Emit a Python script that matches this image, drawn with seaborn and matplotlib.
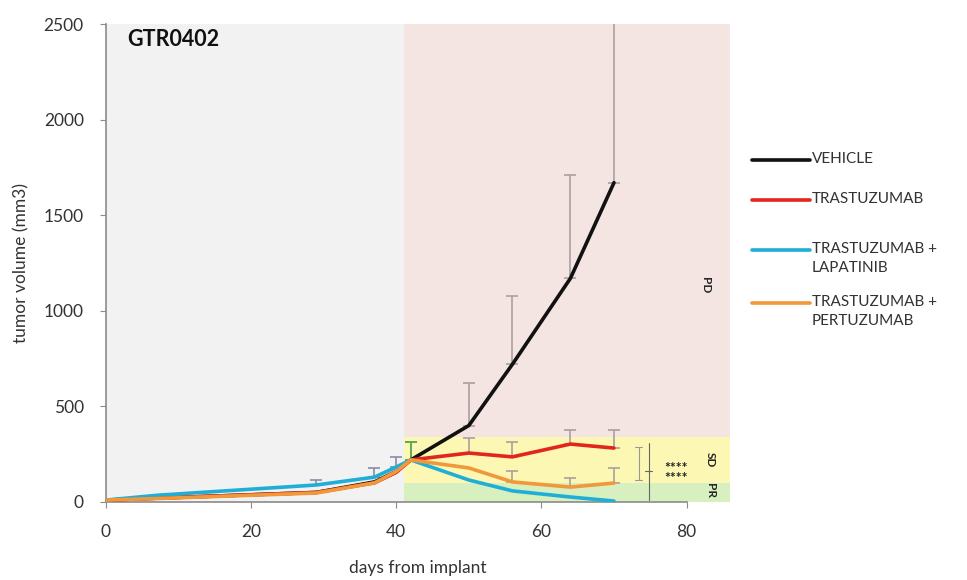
import numpy as np
import pandas as pd
import matplotlib
matplotlib.use("Agg")
import matplotlib.pyplot as plt
from matplotlib.lines import Line2D
from matplotlib.patches import Rectangle
import seaborn as sns

# data
days = [0, 7, 29, 37, 40, 42, 50, 56, 64, 70]
vehicle = [10, 20, 50, 105, 160, 220, 400, 720, 1170, 1670]
trastuzumab = [10, 20, 50, 100, 155, 220, 256, 236, 303, 282]
lapatinib = [10, 35, 89, 130, 183, 220, 115, 58, 26, 5]
pertuzumab = [10, 18, 47, 100, 160, 220, 178, 105, 78, 99]

# upper error bars (plus only)
vehicle_err = [0, 0, 0, 0, 0, 94, 220, 360, 540, 1300]
trastuzumab_err = [0, 0, 0, 0, 0, 0, 80, 78, 74, 95]
lapatinib_err = [0, 0, 26, 48, 52, 0, 0, 0, 0, 0]
pertuzumab_err = [0, 0, 0, 0, 0, 0, 0, 57, 48, 79]

groups = ["VEHICLE", "TRASTUZUMAB", "TRASTUZUMAB +\nLAPATINIB", "TRASTUZUMAB +\nPERTUZUMAB"]
colors = ["#111111", "#e3261b", "#1eaed6", "#f0983a"]
err_colors = ["#a8a0a0", "#a8a0a0", "#8c8aa8", "#a8a0a0"]

# response bands (mm3) and treatment start (day)
treat_start = 41
pr_top = 100
sd_top = 340

sns.set_style("ticks")
plt.rcParams["font.family"] = ["Lato", "DejaVu Sans"]

fig = plt.figure(figsize=(9.67, 5.8), dpi=100)
ax = fig.add_axes([0.1096, 0.1345, 0.755 - 0.1096, 0.9586 - 0.1345])

xmax = 86
ymax = 2500
ax.add_patch(Rectangle((0, 0), treat_start, ymax, color="#f2f2f2", lw=0, zorder=0))
ax.add_patch(Rectangle((treat_start, sd_top), xmax - treat_start, ymax - sd_top,
                       color="#f4e5e3", lw=0, zorder=0))
ax.add_patch(Rectangle((treat_start, pr_top), xmax - treat_start, sd_top - pr_top,
                       color="#fcf8b4", lw=0, zorder=0))
ax.add_patch(Rectangle((treat_start, 0), xmax - treat_start, pr_top,
                       color="#d8f0bf", lw=0, zorder=0))

series = [vehicle, trastuzumab, lapatinib, pertuzumab]
errs = [vehicle_err, trastuzumab_err, lapatinib_err, pertuzumab_err]

rows = []
for g, vals in zip(groups, series):
    for d, v in zip(days, vals):
        rows.append({"day": d, "volume": v, "group": g})
df = pd.DataFrame(rows)

for vals, e, c in zip(series, errs, err_colors):
    e = np.array(e)
    m = e > 0
    ax.errorbar(np.array(days)[m], np.array(vals)[m],
                yerr=[np.zeros(m.sum()), e[m]], fmt="none",
                ecolor=c, elinewidth=1.2, capsize=4, capthick=1.2, zorder=2)
# baseline bar is drawn green
ax.errorbar([42], [220], yerr=[[0], [94]], fmt="none", ecolor="#5faa55",
            elinewidth=1.4, capsize=4, capthick=1.4, zorder=2.5)

sns.lineplot(data=df, x="day", y="volume", hue="group", palette=colors,
             hue_order=groups, linewidth=2.6, legend=False, ax=ax, zorder=3)

ax.set_xlim(0, xmax)
ax.set_ylim(0, ymax)
ax.set_xticks([0, 20, 40, 60, 80])
ax.set_yticks([0, 500, 1000, 1500, 2000, 2500])
ax.spines["top"].set_visible(False)
ax.spines["right"].set_visible(False)
ax.spines["bottom"].set_bounds(0, 80)
for s in ["left", "bottom"]:
    ax.spines[s].set_color("#8a8a8a")
    ax.spines[s].set_linewidth(1.2)
ax.tick_params(colors="#8a8a8a", labelcolor="#333333", labelsize=12.5, length=4)
ax.tick_params(axis="x", pad=12)
ax.tick_params(axis="y", pad=12)
ax.set_xlabel("days from implant", fontsize=12.5, color="#333333", labelpad=14)
ax.set_ylabel("tumor volume (mm3)", fontsize=12.5, color="#333333", labelpad=10)

ax.text(2.9, 2420, "GTR0402", fontsize=15.5, fontweight="bold", color="#111111", va="center")

# band labels
ax.text(82.6, 1135, "PD", rotation=270, fontsize=8.5, fontweight="bold", ha="center", va="center")
ax.text(83.3, 220, "SD", rotation=270, fontsize=8.5, fontweight="bold", ha="center", va="center")
ax.text(83.3, 60, "PR", rotation=270, fontsize=8.5, fontweight="bold", ha="center", va="center")

# significance brackets
ax.plot([73.4, 73.4], [115, 288], color="#999999", lw=0.8, zorder=3)
ax.plot([72.9, 73.9], [288, 288], color="#999999", lw=0.8, zorder=3)
ax.plot([72.9, 73.9], [115, 115], color="#999999", lw=0.8, zorder=3)
ax.plot([74.8, 74.8], [10, 308], color="#666666", lw=0.8, zorder=3)
ax.plot([74.3, 75.3], [160, 160], color="#666666", lw=0.8, zorder=3)
ax.text(78.5, 180, "****", fontsize=10, fontweight="bold", ha="center", va="center")
ax.text(78.5, 125, "****", fontsize=10, fontweight="bold", ha="center", va="center")

# legend drawn by hand so the handle sits on the first text line
leg_y = [160, 200, 250, 303]
for c, g, y in zip(colors, groups, leg_y):
    fy = 1 - y / 580
    fig.add_artist(Line2D([752 / 967, 810 / 967], [fy, fy], color=c, lw=2.6))
    fig.text(812 / 967, fy + 0.014, g, fontsize=11, color="#333333", va="top",
             linespacing=1.45)

fig.savefig("out.png", dpi=100)
